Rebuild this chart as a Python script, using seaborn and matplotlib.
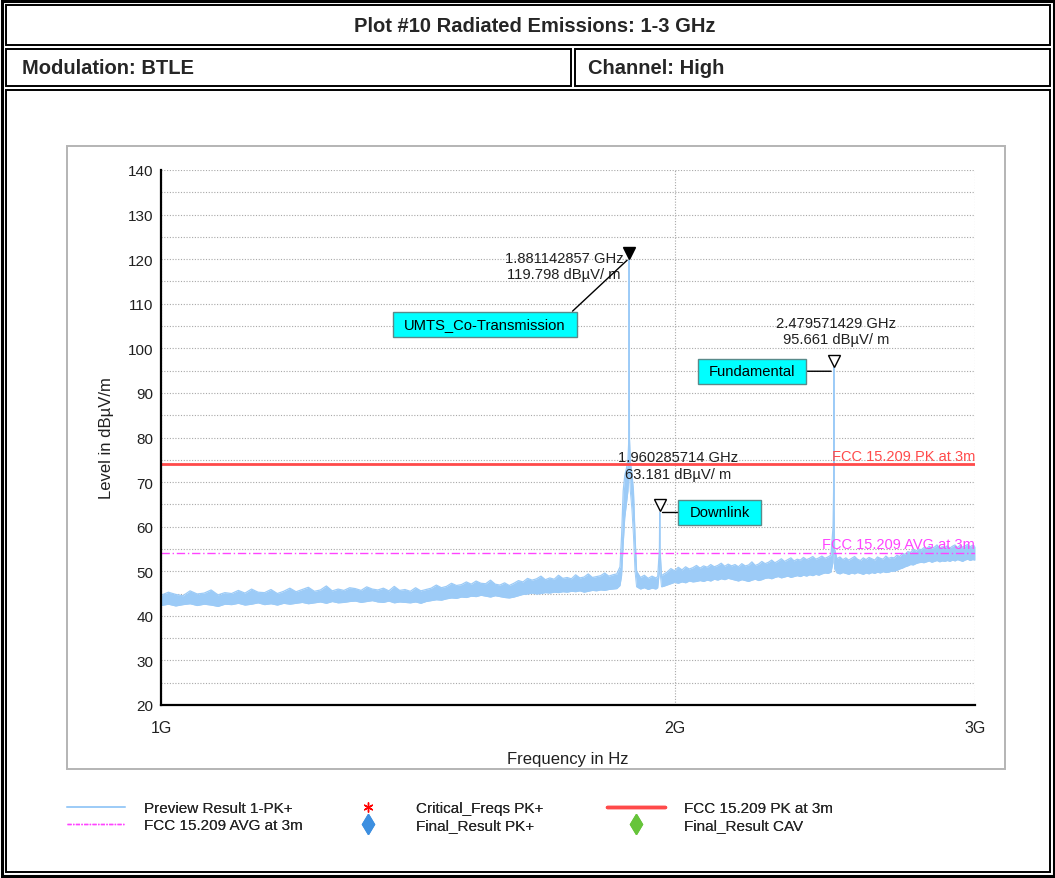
import matplotlib
matplotlib.use("Agg")
import matplotlib.pyplot as plt
import seaborn as sns
import pandas as pd
from matplotlib.lines import Line2D
from matplotlib.patches import Rectangle
from matplotlib.path import Path
from matplotlib.ticker import FixedLocator, NullLocator, MultipleLocator
from matplotlib.transforms import offset_copy
from matplotlib import font_manager

# ---------------- data ----------------
# noise floor 1.00 .. 1.85 GHz
freq_a = [1.00, 1.01, 1.02, 1.03, 1.04, 1.05, 1.06, 1.07, 1.08, 1.09,
          1.10, 1.11, 1.12, 1.13, 1.14, 1.15, 1.16, 1.17, 1.18, 1.19,
          1.20, 1.21, 1.22, 1.23, 1.24, 1.25, 1.26, 1.27, 1.28, 1.29,
          1.30, 1.31, 1.32, 1.33, 1.34, 1.35, 1.36, 1.37, 1.38, 1.39,
          1.40, 1.41, 1.42, 1.43, 1.44, 1.45, 1.46, 1.47, 1.48, 1.49,
          1.50, 1.51, 1.52, 1.53, 1.54, 1.55, 1.56, 1.57, 1.58, 1.59,
          1.60, 1.61, 1.62, 1.63, 1.64, 1.65, 1.66, 1.67, 1.68, 1.69,
          1.70, 1.71, 1.72, 1.73, 1.74, 1.75, 1.76, 1.77, 1.78, 1.79,
          1.80, 1.81, 1.82, 1.83, 1.84, 1.85]
lo_a = [42.3, 42.6, 42.2, 42.5, 42.7, 42.3, 42.6, 42.4, 42.1, 42.6,
        42.5, 42.8, 42.4, 42.6, 42.9, 42.5, 42.7, 42.4, 42.8, 42.6,
        42.8, 43.0, 42.7, 42.9, 43.1, 42.8, 43.2, 42.9, 43.0, 43.2,
        43.3, 43.0, 43.2, 43.4, 43.1, 43.0, 43.3, 42.9, 43.1, 43.0,
        42.9, 43.1, 42.8, 43.2, 43.4, 43.6, 43.5, 43.8, 44.0, 43.9,
        44.2, 44.1, 44.4, 44.3, 44.6, 44.4, 44.2, 44.5, 44.3, 44.1,
        44.0, 44.2, 44.5, 44.8, 44.9, 45.1, 44.9, 45.0, 45.2, 45.1,
        45.3, 45.2, 45.4, 45.3, 45.5, 45.4, 45.6, 45.3, 45.5, 45.7,
        45.6, 45.8, 45.7, 45.9, 46.0, 46.1]
hi_a = [44.6, 45.3, 44.8, 44.5, 45.6, 44.9, 45.1, 45.8, 44.7, 45.2,
        45.0, 45.7, 45.1, 46.0, 45.3, 45.2, 45.9, 45.0, 45.5, 46.2,
        45.4, 45.9, 46.4, 45.5, 45.8, 46.7, 45.6, 46.0, 45.7, 46.3,
        46.1, 45.7, 46.5, 46.0, 45.8, 46.2, 45.6, 46.6, 45.7, 45.9,
        45.5, 46.3, 45.6, 45.9, 46.2, 46.9, 46.3, 46.6, 47.3, 46.8,
        47.0, 47.6, 47.1, 47.8, 47.3, 47.2, 48.0, 47.1, 46.9, 47.4,
        46.8, 47.3, 47.9, 47.6, 48.4, 48.0, 48.3, 48.9, 48.1, 48.5,
        48.2, 49.1, 48.4, 48.6, 48.3, 49.2, 48.5, 48.7, 49.4, 48.6,
        48.8, 49.0, 49.6, 48.9, 49.2, 49.4]

# UMTS co-transmission hump and spike
freq_umts = [1.858, 1.862, 1.866, 1.870, 1.874, 1.878, 1.8805, 1.88114, 1.8818,
             1.884, 1.888, 1.892, 1.896]
lo_umts = [46.8, 49.0, 56.0, 62.0, 65.0, 68.0, 72.0, 119.8, 72.0, 68.0, 64.0, 58.0, 50.0]
hi_umts = [51.0, 58.0, 68.0, 71.5, 73.0, 75.0, 80.0, 119.8, 80.0, 74.5, 72.0, 68.0, 58.0]

freq_b = [1.90, 1.91, 1.92, 1.93, 1.94, 1.95, 1.955]
lo_b = [46.5, 46.0, 46.3, 45.9, 46.2, 46.0, 46.3]
hi_b = [50.0, 48.6, 49.1, 48.4, 48.9, 48.5, 48.8]

# downlink spike
freq_dl = [1.9595, 1.96029, 1.961, 1.965]
lo_dl = [50.0, 63.18, 50.0, 46.5]
hi_dl = [55.0, 63.18, 55.0, 49.0]

freq_c = [1.97, 1.98, 1.99, 2.00, 2.01, 2.02, 2.03, 2.04, 2.05, 2.06,
          2.07, 2.08, 2.09, 2.10, 2.11, 2.12, 2.13, 2.14, 2.15, 2.16,
          2.17, 2.18, 2.19, 2.20, 2.21, 2.22, 2.23, 2.24, 2.25, 2.26,
          2.27, 2.28, 2.29, 2.30, 2.31, 2.32, 2.33, 2.34, 2.35, 2.36,
          2.37, 2.38, 2.39, 2.40, 2.41, 2.42, 2.43, 2.44, 2.45, 2.46,
          2.47]
lo_c = [46.6, 46.9, 47.2, 47.5, 47.3, 47.6, 47.4, 47.8, 47.6, 47.7,
        47.9, 47.7, 48.0, 47.8, 48.2, 48.0, 48.3, 48.1, 48.4, 48.2,
        48.0, 47.8, 48.1, 47.9, 47.7, 48.0, 48.2, 47.9, 48.1, 48.4,
        48.5, 48.3, 48.6, 48.8, 48.5, 48.7, 48.9, 48.6, 48.8, 49.0,
        48.8, 49.1, 48.9, 49.2, 49.0, 49.3, 49.1, 49.4, 49.6, 49.5,
        49.8]
hi_c = [49.3, 49.8, 50.6, 50.1, 50.9, 50.3, 51.0, 50.5, 50.8, 51.3,
        50.7, 51.2, 50.9, 51.5, 51.0, 51.3, 51.8, 51.1, 51.6, 51.2,
        51.5, 51.0, 51.7, 51.2, 51.4, 52.1, 51.3, 51.6, 52.2, 51.7,
        52.0, 52.5, 51.9, 52.3, 52.8, 52.2, 52.6, 53.0, 52.3, 52.7,
        52.5, 53.1, 52.6, 52.9, 53.3, 52.7, 53.0, 53.4, 52.9, 53.2,
        53.6]

# fundamental spike
freq_fund = [2.477, 2.4788, 2.47957, 2.4803, 2.482]
lo_fund = [52.0, 60.0, 95.66, 58.0, 50.5]
hi_fund = [60.0, 68.0, 95.66, 64.0, 55.0]

freq_d = [2.49, 2.50, 2.51, 2.52, 2.53, 2.54, 2.55, 2.56, 2.57, 2.58,
          2.59, 2.60, 2.61, 2.62, 2.63, 2.64, 2.65, 2.66, 2.67, 2.68,
          2.69, 2.70, 2.71, 2.72, 2.73, 2.74, 2.75, 2.76, 2.77, 2.78,
          2.79, 2.80, 2.81, 2.82, 2.83, 2.84, 2.85, 2.86, 2.87, 2.88,
          2.89, 2.90, 2.91, 2.92, 2.93, 2.94, 2.95, 2.96, 2.97, 2.98,
          2.99, 3.00]
lo_d = [49.6, 49.4, 49.7, 49.5, 49.3, 49.6, 49.4, 49.7, 49.5, 49.3,
        49.6, 49.4, 49.7, 49.5, 49.8, 49.6, 49.9, 49.7, 49.8, 50.0,
        50.0, 50.2, 50.5, 50.7, 51.0, 51.2, 51.5, 51.4, 51.7, 51.9,
        52.0, 51.9, 52.1, 52.3, 52.0, 52.2, 52.4, 52.1, 52.3, 52.2,
        52.4, 52.2, 52.5, 52.3, 52.6, 52.4, 52.2, 52.5, 52.7, 52.4,
        52.6, 52.5]
hi_d = [52.8, 53.2, 52.6, 53.0, 52.5, 52.9, 53.3, 52.7, 52.4, 53.0,
        52.6, 53.1, 52.8, 52.5, 53.2, 52.9, 52.7, 53.4, 52.9, 53.1,
        53.0, 53.6, 53.3, 54.0, 53.8, 54.4, 54.2, 54.9, 54.5, 55.0,
        54.8, 55.3, 55.0, 55.6, 55.2, 55.4, 55.9, 55.1, 55.5, 55.3,
        55.7, 55.2, 55.6, 55.9, 55.3, 55.8, 55.4, 55.7, 56.0, 55.5,
        55.8, 55.6]

peak_freq_ghz = [1.881142857, 1.960285714, 2.479571429]
peak_level = [119.798, 63.181, 95.661]
peak_names = ["UMTS_Co-Transmission", "Downlink", "Fundamental"]
peak_filled = [True, False, False]

limit_pk = 74.0
limit_avg = 54.0
limit_pk_label = "FCC 15.209 PK at 3m"
limit_avg_label = "FCC 15.209 AVG at 3m"

x_ticks = [1, 2, 3]
x_tick_labels = ["1G", "2G", "3G"]
y_min, y_max = 20, 140

title_text = "Plot #10 Radiated Emissions: 1-3 GHz"
left_header = "Modulation: BTLE"
right_header = "Channel: High"

legend_labels = ["Preview Result 1-PK+", "FCC 15.209 AVG at 3m",
                 "Critical_Freqs PK+", "Final_Result PK+",
                 "FCC 15.209 PK at 3m", "Final_Result CAV"]

# ---------------- style ----------------
sns.set_style("white")
names = {f.name for f in font_manager.fontManager.ttflist}
base_font = "Liberation Sans" if "Liberation Sans" in names else "DejaVu Sans"
narrow_font = "Liberation Sans Narrow" if "Liberation Sans Narrow" in names else base_font
plt.rcParams["font.family"] = [base_font, "DejaVu Sans"]

TRACE = "#9ccbf7"
RED = "#ff4a4a"
MAG = "#ff44ff"

W, H = 1055, 879
fig = plt.figure(figsize=(W / 100, H / 100), dpi=100)

# overlay for frame / table
ov = fig.add_axes([0, 0, 1, 1], zorder=0)
ov.set_xlim(0, W)
ov.set_ylim(H, 0)
ov.axis("off")


def box(x0, y0, x1, y1, lw=1.2, ec="black", fc="none"):
    ov.add_patch(Rectangle((x0, y0), x1 - x0, y1 - y0, lw=lw, ec=ec, fc=fc))


box(1.5, 1.5, 1053.5, 877.5, lw=2.2)
box(5.5, 5.5, 1049.5, 45.5, lw=1.4)
box(5.5, 49.5, 570.5, 86.5, lw=1.4)
box(574.5, 49.5, 1049.5, 86.5, lw=1.4)
box(5.5, 90.5, 1049.5, 873.5, lw=1.4)
box(67, 147, 1005, 770, lw=1.4, ec="#b4b4b4", fc="white")

hdr_font = [narrow_font, "DejaVu Sans"]
ov.text(535, 27, title_text, ha="center", va="center", fontsize=14.5,
        fontweight="bold", family=hdr_font)
ov.text(22, 69, left_header, ha="left", va="center", fontsize=14.5,
        fontweight="bold", family=hdr_font)
ov.text(588, 69, right_header, ha="left", va="center", fontsize=14.5,
        fontweight="bold", family=hdr_font)

# main axes
L, R, T, B = 161, 975, 171, 706
ax = fig.add_axes([L / W, 1 - B / H, (R - L) / W, (B - T) / H], zorder=2)
ax.set_facecolor("none")

df = pd.DataFrame({
    "freq": freq_a + freq_umts + freq_b + freq_dl + freq_c + freq_fund + freq_d,
    "lo": lo_a + lo_umts + lo_b + lo_dl + lo_c + lo_fund + lo_d,
    "hi": hi_a + hi_umts + hi_b + hi_dl + hi_c + hi_fund + hi_d,
})
ax.fill_between(df["freq"], df["lo"], df["hi"], color=TRACE, lw=0, zorder=2)
sns.lineplot(data=df, x="freq", y="hi", ax=ax, color=TRACE, lw=0.9,
             estimator=None, sort=False, zorder=2)
sns.lineplot(data=df, x="freq", y="lo", ax=ax, color=TRACE, lw=0.7,
             estimator=None, sort=False, zorder=2)

ax.axhline(limit_pk, color=RED, lw=2.0, zorder=3)
ax.axhline(limit_avg, color=MAG, lw=1.0, ls=(0, (6, 2, 1, 2)), zorder=3)

ax.set_xscale("log")
ax.set_xlim(1, 3)
ax.set_ylim(y_min, y_max)
ax.xaxis.set_major_locator(FixedLocator(x_ticks))
ax.xaxis.set_minor_locator(NullLocator())
ax.set_xticklabels(x_tick_labels)
ax.yaxis.set_major_locator(MultipleLocator(10))
ax.yaxis.set_minor_locator(MultipleLocator(5))

for s in ["top", "right"]:
    ax.spines[s].set_visible(False)
for s in ["left", "bottom"]:
    ax.spines[s].set_color("black")
    ax.spines[s].set_linewidth(1.6)
    ax.spines[s].set_zorder(5)

ax.grid(True, which="both", axis="y", color="#a8a8a8", ls=(0, (1, 1.5)), lw=0.8, zorder=0)
ax.grid(True, which="major", axis="x", color="#a8a8a8", ls=(0, (1, 1.5)), lw=0.8, zorder=0)
ax.tick_params(axis="both", which="both", direction="inout", color="black",
               width=1.4, labelsize=11, labelcolor="#202020")
ax.tick_params(axis="y", which="major", length=10, pad=0.5)
ax.tick_params(axis="y", which="minor", length=10)
ax.tick_params(axis="x", which="major", length=10, pad=6)
for lbl in ax.get_xticklabels():
    lbl.set_fontsize(11.5)

ax.set_xlabel("Frequency in Hz", fontsize=12, labelpad=11.5, color="#202020")
ax.set_ylabel("Level in dBµV/m", fontsize=12, labelpad=10, color="#202020")

# limit labels
ax.annotate(limit_pk_label, xy=(1, limit_pk), xycoords=("axes fraction", "data"),
            xytext=(0, 8), textcoords="offset pixels", ha="right", va="center",
            fontsize=10.5, color=RED, zorder=4)
ax.annotate(limit_avg_label, xy=(1, limit_avg), xycoords=("axes fraction", "data"),
            xytext=(0, 9), textcoords="offset pixels", ha="right", va="center",
            fontsize=10.5, color=MAG, zorder=4)


def label_box(x0, y0, width, height, mutation_size):
    """Rectangular box with more horizontal than vertical padding."""
    px = 0.75 * mutation_size
    py = 0.38 * mutation_size
    x0, y0 = x0 - px, y0 - py
    x1, y1 = x0 + width + 2 * px, y0 + height + 2 * py
    return Path([(x0, y0), (x1, y0), (x1, y1), (x0, y1), (x0, y0)],
                closed=True)


# peak markers, readouts and named boxes
text_off = [(-65, -6), (18, 47), (2, 37)]
box_off = [(-144, -66), (60, 0), (-82, 0)]
box_rel = [(1, 1), (0, 0.5), (1, 0.5)]
line_target_dy = [0.4, 0.0, -0.8]
for f, lv, name, filled, toff, boff, rel, dy in zip(peak_freq_ghz, peak_level, peak_names,
                                                     peak_filled, text_off, box_off,
                                                     box_rel, line_target_dy):
    mk = ax.plot([f], [lv], marker="v", ms=9, mew=1.0, mec="black",
                 mfc="black" if filled else "white", ls="none", zorder=6)[0]
    mk.set_transform(offset_copy(ax.transData, fig=fig, x=0, y=7, units="dots"))
    ax.annotate(f"{f:.9f} GHz\n{lv:.3f} dBµV/ m", xy=(f, lv), xytext=toff,
                textcoords="offset pixels", ha="center", va="center",
                multialignment="center", fontsize=10.6, linespacing=1.2,
                color="#202020", zorder=7)
    ax.annotate(name, xy=(f, lv + dy), xytext=boff,
                textcoords="offset pixels", ha="center", va="center", fontsize=10.6,
                color="black", zorder=7,
                bbox=dict(boxstyle=label_box, fc="#00ffff", ec="#5a8a8a", lw=1.0),
                arrowprops=dict(arrowstyle="-", color="black", lw=1.0, shrinkA=0,
                                shrinkB=2, relpos=rel))

# legend, three columns of two entries each
h_preview = Line2D([], [], color=TRACE, lw=1.2)
h_avg = Line2D([], [], color=MAG, lw=1.0, ls=(0, (3, 1, 1, 1)))
h_crit = Line2D([], [], color="red", ls="none", marker=(6, 2, 0), ms=7, mew=0.9)
h_pk = Line2D([], [], color="#3d8fe0", ls="none", marker="d", ms=10)
h_limpk = Line2D([], [], color=RED, lw=2.5)
h_cav = Line2D([], [], color="#66c43a", ls="none", marker="d", ms=10)
cols = [([h_preview, h_avg], legend_labels[0:2], 67),
        ([h_crit, h_pk], legend_labels[2:4], 339),
        ([h_limpk, h_cav], legend_labels[4:6], 607)]
for handles, labels, xpx in cols:
    lg = fig.legend(handles, labels, loc="upper left",
                    bbox_to_anchor=(xpx / W, 1 - 802 / H), frameon=False,
                    fontsize=11, handlelength=3.8, handletextpad=1.25,
                    labelspacing=0.2, borderpad=0, borderaxespad=0, numpoints=1)
    fig.add_artist(lg)

fig.savefig("out.png", dpi=100)
